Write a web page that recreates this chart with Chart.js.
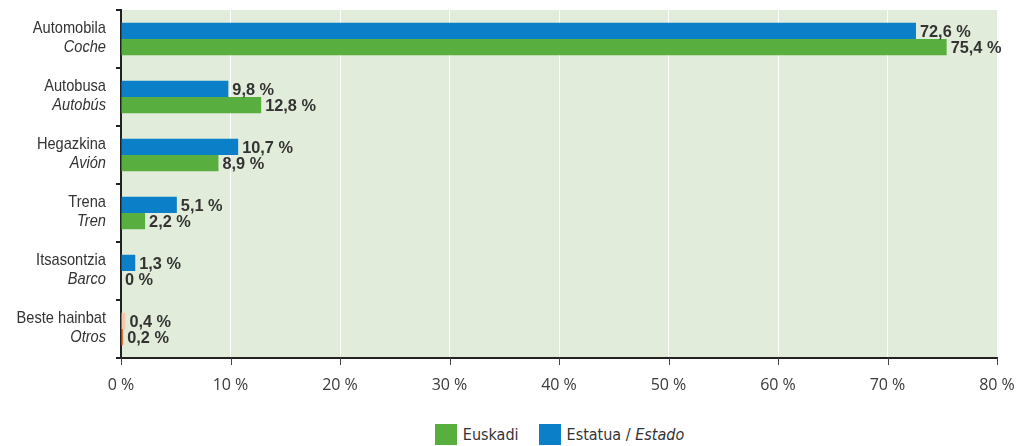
<!DOCTYPE html>
<html>
<head>
<meta charset="utf-8">
<script src="https://cdn.jsdelivr.net/npm/chart.js@4/dist/chart.umd.min.js"></script>
<style>
    html, body { margin: 0; padding: 0; background: #fff; }
    #wrap { position: relative; width: 1033px; height: 410px; }
    .legend {
        position: absolute; top: 424px; left: 0; width: 1033px;
        display: flex; justify-content: center; gap: 20px;
        font-family: "DejaVu Sans Condensed", sans-serif;
        font-size: 16px; color: #333; padding-left: 86px; box-sizing: border-box;
    }
    .legend span.item { display: flex; align-items: center; }
    .legend i.box { display: inline-block; width: 22px; height: 21px; margin-right: 6px; }
</style>
</head>
<body>
<div id="wrap"><canvas id="chart"></canvas></div>
<div class="legend">
    <span class="item"><i class="box" style="background:#58ae3f"></i>Euskadi</span>
    <span class="item"><i class="box" style="background:#0b7fc7"></i>Estatua /&nbsp;<em>Estado</em></span>
</div>
<script>
/* Labels: basque name + spanish name (italic) */
const categoriesEu = ['Automobila', 'Autobusa', 'Hegazkina', 'Trena', 'Itsasontzia', 'Beste hainbat'];
const categoriesEs = ['Coche', 'Autobús', 'Avión', 'Tren', 'Barco', 'Otros'];
const estatuaValues = [72.6, 9.8, 10.7, 5.1, 1.3, 0.4];
const euskadiValues = [75.4, 12.8, 8.9, 2.2, 0, 0.2];
const xTicks = [0, 10, 20, 30, 40, 50, 60, 70, 80];

const BLUE = '#0b7fc7';
const GREEN = '#58ae3f';
const FONT = '"Liberation Sans", Arial, sans-serif';

const fmt = v => String(v).replace('.', ',') + ' %';

// condensed-looking text: squeeze horizontally around the anchor
function narrowText(ctx, text, x, y, sq) {
    ctx.save();
    ctx.translate(x, y);
    ctx.scale(sq, 1);
    ctx.fillText(text, 0, 0);
    ctx.restore();
}

// plot background
const bgPlugin = {
    id: 'plotBg',
    beforeDraw(chart) {
        const { ctx, chartArea: a } = chart;
        ctx.save();
        ctx.fillStyle = '#e1edda';
        ctx.fillRect(a.left, a.top, a.right - a.left, a.bottom - a.top);
        ctx.restore();
    }
};

// two-line category labels on the left
const catLabels = {
    id: 'catLabels',
    afterDraw(chart) {
        const { ctx } = chart;
        const y = chart.scales.y;
        ctx.save();
        ctx.fillStyle = '#333';
        ctx.textAlign = 'right';
        ctx.textBaseline = 'middle';
        categoriesEu.forEach((name, i) => {
            const cy = y.getPixelForValue(i);
            ctx.font = '17px ' + FONT;
            narrowText(ctx, name, 106, cy - 11, 0.86);
            ctx.font = 'italic 17px ' + FONT;
            narrowText(ctx, categoriesEs[i], 106, cy + 8, 0.86);
        });
        ctx.restore();
    }
};

// value labels at bar ends
const valueLabels = {
    id: 'valueLabels',
    afterDatasetsDraw(chart) {
        const { ctx } = chart;
        ctx.save();
        ctx.fillStyle = '#333';
        ctx.font = 'bold 17px ' + FONT;
        ctx.textAlign = 'left';
        ctx.textBaseline = 'middle';
        chart.data.datasets.forEach((ds, di) => {
            chart.getDatasetMeta(di).data.forEach((bar, i) => {
                narrowText(ctx, fmt(ds.data[i]), bar.x + 4, bar.y + 1, 0.96);
            });
        });
        ctx.restore();
    }
};

// small tick marks below the x axis
const xTickMarks = {
    id: 'xTickMarks',
    afterDraw(chart) {
        const { ctx } = chart;
        const x = chart.scales.x;
        const bottom = chart.chartArea.bottom;
        ctx.save();
        ctx.strokeStyle = '#444';
        ctx.lineWidth = 1;
        xTicks.forEach(v => {
            const px = Math.round(x.getPixelForValue(v)) + 0.5;
            ctx.beginPath();
            ctx.moveTo(px, bottom);
            ctx.lineTo(px, bottom + 7);
            ctx.stroke();
        });
        ctx.restore();
    }
};

new Chart(document.getElementById('chart'), {
    type: 'bar',
    data: {
        labels: categoriesEu,
        datasets: [
            {
                label: 'Estatua / Estado',
                data: estatuaValues,
                backgroundColor: estatuaValues.map((v, i) => i === 5 ? '#f6c9ad' : BLUE)
            },
            {
                label: 'Euskadi',
                data: euskadiValues,
                backgroundColor: euskadiValues.map((v, i) => i === 5 ? '#e5783f' : GREEN)
            }
        ]
    },
    options: {
        indexAxis: 'y',
        responsive: true,
        maintainAspectRatio: false,
        animation: false,
        layout: { padding: { top: 10, right: 36, left: 0, bottom: 0 } },
        datasets: { bar: { categoryPercentage: 0.56, barPercentage: 1.0 } },
        plugins: {
            legend: { display: false },
            tooltip: { enabled: false }
        },
        scales: {
            x: {
                min: 0, max: 80,
                afterBuildTicks(scale) { scale.ticks = xTicks.map(v => ({ value: v })); },
                afterFit(scale) { scale.height = 52; },
                border: { display: true, color: '#222', width: 2 },
                grid: { color: '#ffffff', lineWidth: 1, drawTicks: false },
                ticks: {
                    padding: 18,
                    color: '#3a3a3a',
                    font: { family: '"Open Sans", sans-serif', size: 16 },
                    callback: v => v + ' %'
                }
            },
            y: {
                afterFit(scale) { scale.width = 121; },
                border: { display: true, color: '#222', width: 2 },
                grid: { drawOnChartArea: false, drawTicks: true, tickLength: 5, color: '#222', lineWidth: 2, offset: true },
                ticks: { display: false }
            }
        }
    },
    plugins: [bgPlugin, catLabels, valueLabels, xTickMarks]
});
</script>
</body>
</html>
